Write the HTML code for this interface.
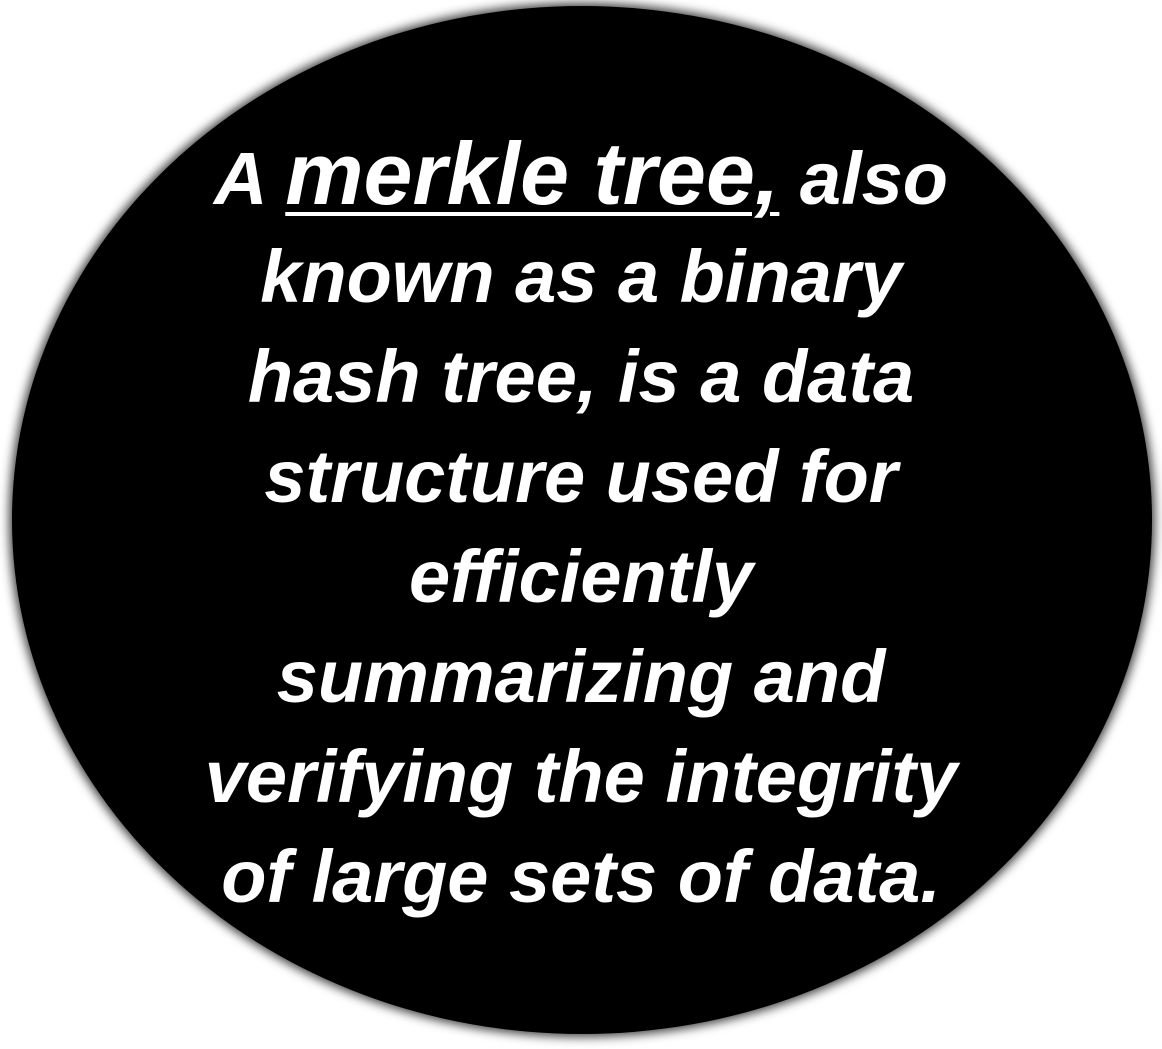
<!DOCTYPE html>
<html><head><meta charset="utf-8"><style>
html,body{margin:0;padding:0;background:#fff;width:1162px;height:1049px;overflow:hidden;position:relative}
.e{position:absolute;left:12px;top:6px;width:1140px;height:1028px;border-radius:50%;background:#000;box-shadow:0 0 10px 3px rgba(0,0,0,.75)}
.l{position:absolute;left:0;width:1162px;text-align:center;color:#fff;font-family:"Liberation Sans",sans-serif;font-weight:bold;font-style:italic;font-size:74px;line-height:80px;white-space:nowrap;letter-spacing:0}
.big{font-size:88px;text-decoration:underline;text-decoration-thickness:4px;text-underline-offset:8px}
</style></head><body>
<div class="e"></div>
<div class="l" style="top:134px">A <span class="big">merkle tree,</span> also</div>
<div class="l" style="top:237px">known as a binary</div>
<div class="l" style="top:337px">hash tree, is a data</div>
<div class="l" style="top:437px">structure used for</div>
<div class="l" style="top:537px">efficiently</div>
<div class="l" style="top:637px">summarizing and</div>
<div class="l" style="top:737px">verifying the integrity</div>
<div class="l" style="top:837px">of large sets of data.</div>
</body></html>
